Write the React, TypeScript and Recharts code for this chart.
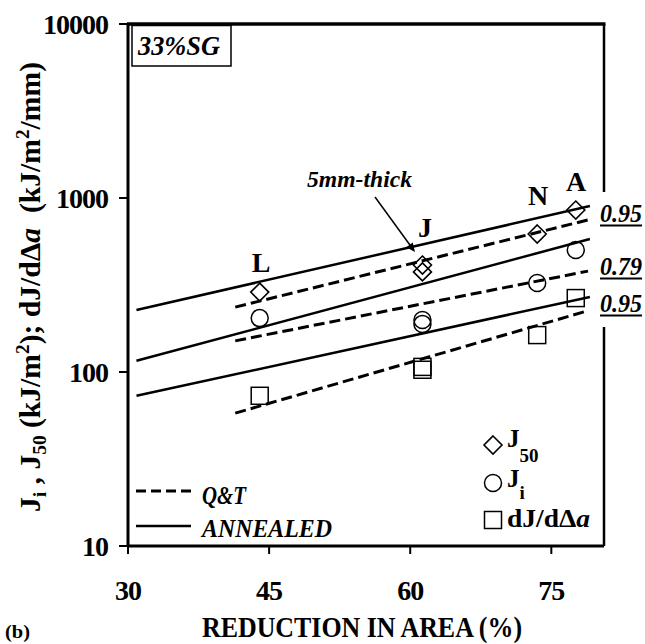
import React from 'react';
import { ComposedChart, Line, Scatter, XAxis, YAxis, Customized } from 'recharts';

const FONT = "'Liberation Serif', 'Times New Roman', Times, serif";

// Axis ticks
const xTicks = [30, 45, 60, 75];
const yTicks = [10, 100, 1000, 10000];

// Measured points: reduction in area (%) vs value
const j50Points = [
  { ra: 44.0, v: 288 },
  { ra: 61.3, v: 412 },
  { ra: 61.3, v: 376 },
  { ra: 73.5, v: 621 },
  { ra: 77.6, v: 853 },
];
const jiPoints = [
  { ra: 44.0, v: 204 },
  { ra: 61.3, v: 199 },
  { ra: 61.3, v: 189 },
  { ra: 73.5, v: 325 },
  { ra: 77.6, v: 503 },
];
const dJPoints = [
  { ra: 44.0, v: 73 },
  { ra: 61.3, v: 107 },
  { ra: 61.3, v: 103 },
  { ra: 73.5, v: 163 },
  { ra: 77.6, v: 266 },
];

// Trend lines (ANNEALED = solid, Q&T = dashed)
const annealedJ50 = [{ ra: 30.9, v: 227 }, { ra: 79.1, v: 899 }];
const annealedJi = [{ ra: 30.9, v: 116 }, { ra: 79.1, v: 581 }];
const annealedDJ = [{ ra: 30.9, v: 73 }, { ra: 79.1, v: 270 }];
const qtJ50 = [{ ra: 41.4, v: 236 }, { ra: 78.9, v: 748 }];
const qtJi = [{ ra: 41.4, v: 151 }, { ra: 78.9, v: 380 }];
const qtDJ = [{ ra: 41.4, v: 58 }, { ra: 78.9, v: 225 }];

const materialLabels = ['L', 'J', 'N', 'A'];
const rSquared = ['0.95', '0.79', '0.95'];

const Diamond = (props: any) => {
  const { cx, cy } = props;
  if (cx == null || cy == null) return null;
  const r = 9;
  return (
    <path
      d={`M${cx},${cy - r}L${cx + r},${cy}L${cx},${cy + r}L${cx - r},${cy}Z`}
      fill="none"
      stroke="#000"
      strokeWidth={1.6}
    />
  );
};
const CircleMark = (props: any) => {
  const { cx, cy } = props;
  if (cx == null || cy == null) return null;
  return <circle cx={cx} cy={cy} r={8.5} fill="none" stroke="#000" strokeWidth={1.5} />;
};
const SquareMark = (props: any) => {
  const { cx, cy } = props;
  if (cx == null || cy == null) return null;
  return <rect x={cx - 8.5} y={cy - 8.5} width={17} height={17} fill="none" stroke="#000" strokeWidth={1.5} />;
};

const YTick = (props: any) => {
  const { x, y, payload } = props;
  return (
    <text x={x} y={y + 9.5} textAnchor="end" fontFamily={FONT} fontWeight="bold" fontSize={28} letterSpacing={-1} fill="#000">
      {payload.value}
    </text>
  );
};
const XTick = (props: any) => {
  const { x, y, payload } = props;
  return (
    <text x={x} y={y + 46} textAnchor="middle" fontFamily={FONT} fontWeight="bold" fontSize={28} letterSpacing={-1} fill="#000">
      {payload.value}
    </text>
  );
};

const T = (p: any) => <text fontFamily={FONT} fontWeight="bold" fill="#000" {...p} />;

const Overlay = () => {
  const labelPos = [
    [261, 272],
    [425, 237],
    [538, 205],
    [576, 191],
  ];
  const rPos = [222, 275, 312];
  return (
    <g>
      {/* frame */}
      <line x1={127} y1={24} x2={605.5} y2={24} stroke="#000" strokeWidth={3.5} />
      <line x1={604} y1={24} x2={604} y2={192} stroke="#000" strokeWidth={2.5} />
      <line x1={604} y1={327} x2={604} y2={546} stroke="#000" strokeWidth={2.5} />

      {/* 33%SG box */}
      <rect x={132} y={25.5} width={99} height={40.5} fill="none" stroke="#000" strokeWidth={1.5} />
      <T x={138} y={55} fontSize={27} fontStyle="italic" textLength={82} lengthAdjust="spacingAndGlyphs">33%SG</T>

      {/* material labels */}
      {materialLabels.map((m, i) => (
        <T key={m} x={labelPos[i][0]} y={labelPos[i][1]} fontSize={28} textAnchor="middle">{m}</T>
      ))}

      {/* 5mm-thick annotation */}
      <T x={307} y={187} fontSize={23} fontStyle="italic" textLength={105} lengthAdjust="spacingAndGlyphs">5mm-thick</T>
      <line x1={375} y1={197} x2={411} y2={246.5} stroke="#000" strokeWidth={1.5} />
      <polygon points="415,252 406.3,247.3 412.7,242.6" fill="#000" />

      {/* R^2 labels */}
      {rSquared.map((r, i) => (
        <g key={i}>
          <rect x={598} y={rPos[i] - 20} width={46} height={26} fill="#fff" />
          <T x={600} y={rPos[i]} fontSize={25} fontStyle="italic" textLength={42} lengthAdjust="spacingAndGlyphs">{r}</T>
          <line x1={600} x2={642} y1={rPos[i] + 3.5} y2={rPos[i] + 3.5} stroke="#000" strokeWidth={2} />
        </g>
      ))}

      {/* line-style legend */}
      <line x1={136} x2={191} y1={491} y2={491} stroke="#000" strokeWidth={3} strokeDasharray="10 5" />
      <T x={202} y={504} fontSize={26} fontStyle="italic" textLength={44} lengthAdjust="spacingAndGlyphs">Q&amp;T</T>
      <line x1={136} x2={191} y1={526} y2={526} stroke="#000" strokeWidth={2.5} />
      <T x={202} y={537} fontSize={26} fontStyle="italic" textLength={130} lengthAdjust="spacingAndGlyphs">ANNEALED</T>

      {/* marker legend */}
      <Diamond cx={493} cy={445} />
      <T x={507} y={447} fontSize={25}>J<tspan fontSize={19} dy={15}>50</tspan></T>
      <CircleMark cx={493} cy={483} />
      <T x={507} y={487} fontSize={25}>J<tspan fontSize={19} dy={12}>i</tspan></T>
      <SquareMark cx={493} cy={520} />
      <T x={507} y={527} fontSize={25} textLength={83} lengthAdjust="spacingAndGlyphs">dJ/dΔ<tspan fontStyle="italic">a</tspan></T>

      {/* axis titles */}
      <T x={362} y={637} fontSize={30} textAnchor="middle" textLength={320} lengthAdjust="spacingAndGlyphs">REDUCTION IN AREA (%)</T>
      <T transform="translate(40,287) rotate(-90)" fontSize={29} textAnchor="middle" textLength={450} lengthAdjust="spacingAndGlyphs">
        J<tspan fontSize={19} dy={6}>i</tspan>
        <tspan dy={-6}> , J</tspan>
        <tspan fontSize={19} dy={6}>50</tspan>
        <tspan dy={-6}> (kJ/m</tspan>
        <tspan fontSize={19} dy={-11}>2</tspan>
        <tspan dy={11}>); dJ/dΔ</tspan>
        <tspan fontStyle="italic">a</tspan>
        <tspan>{'\u00A0 (kJ/m'}</tspan>
        <tspan fontSize={19} dy={-11}>2</tspan>
        <tspan dy={11}>/mm)</tspan>
      </T>
      <T x={5} y={638} fontSize={18} textLength={25} lengthAdjust="spacingAndGlyphs">(b)</T>
    </g>
  );
};

export default function App() {
  return (
    <div style={{ position: 'absolute', left: 0, top: 0, background: '#fff' }}>
      <ComposedChart width={645} height={644} margin={{ top: 24, right: 41, left: 0, bottom: 0 }}>
        <XAxis
          dataKey="ra"
          type="number"
          domain={[30, 80.6]}
          ticks={xTicks}
          allowDataOverflow
          height={98}
          tickSize={8}
          tickMargin={0}
          tick={<XTick />}
          axisLine={{ stroke: '#000', strokeWidth: 3 }}
          tickLine={{ stroke: '#000', strokeWidth: 2 }}
        />
        <YAxis
          dataKey="v"
          type="number"
          scale="log"
          domain={[10, 10000]}
          ticks={yTicks}
          allowDataOverflow
          width={128}
          tickSize={9}
          tickMargin={11}
          tick={<YTick />}
          axisLine={{ stroke: '#000', strokeWidth: 3 }}
          tickLine={{ stroke: '#000', strokeWidth: 2 }}
        />
        <Line data={annealedJ50} dataKey="v" type="linear" stroke="#000" strokeWidth={2.5} dot={false} activeDot={false} isAnimationActive={false} />
        <Line data={annealedJi} dataKey="v" type="linear" stroke="#000" strokeWidth={2.5} dot={false} activeDot={false} isAnimationActive={false} />
        <Line data={annealedDJ} dataKey="v" type="linear" stroke="#000" strokeWidth={2.5} dot={false} activeDot={false} isAnimationActive={false} />
        <Line data={qtJ50} dataKey="v" type="linear" stroke="#000" strokeWidth={3} strokeDasharray="11 5" dot={false} activeDot={false} isAnimationActive={false} />
        <Line data={qtJi} dataKey="v" type="linear" stroke="#000" strokeWidth={3} strokeDasharray="11 5" dot={false} activeDot={false} isAnimationActive={false} />
        <Line data={qtDJ} dataKey="v" type="linear" stroke="#000" strokeWidth={3} strokeDasharray="11 5" dot={false} activeDot={false} isAnimationActive={false} />
        <Scatter data={j50Points} dataKey="v" shape={<Diamond />} isAnimationActive={false} />
        <Scatter data={jiPoints} dataKey="v" shape={<CircleMark />} isAnimationActive={false} />
        <Scatter data={dJPoints} dataKey="v" shape={<SquareMark />} isAnimationActive={false} />
        <Customized component={Overlay} />
      </ComposedChart>
    </div>
  );
}
